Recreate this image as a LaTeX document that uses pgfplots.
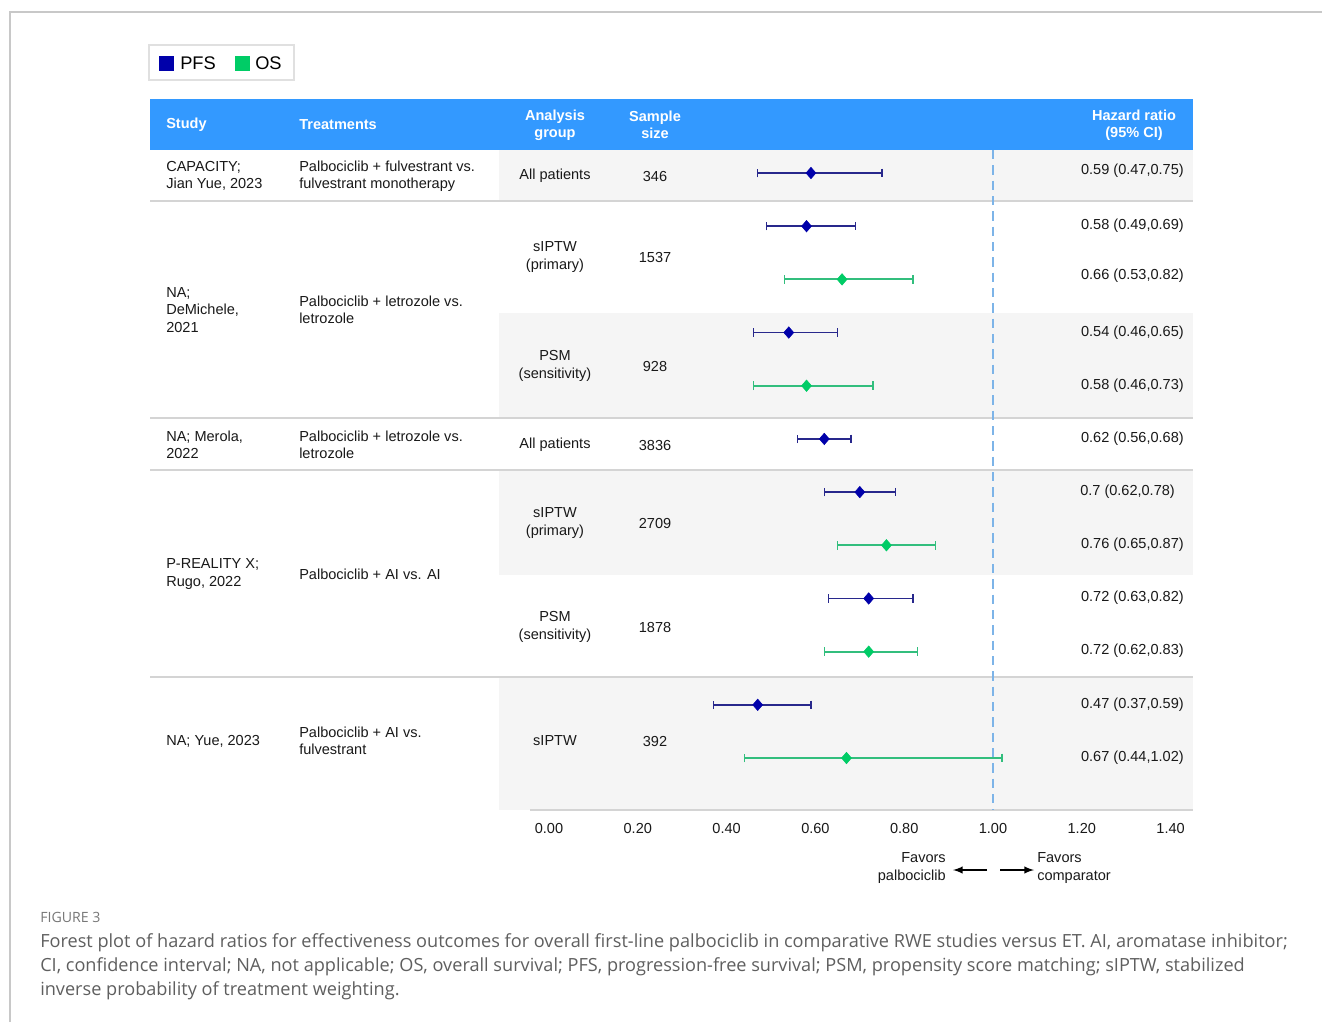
\documentclass[border=0pt]{standalone}
\usepackage{fontspec}
\setmainfont{Liberation Sans}
\newfontfamily\capfont{Open Sans}
\usepackage{pgfplots}
\pgfplotsset{compat=1.18}
\usepackage{pgfplotstable}

\definecolor{hdrblue}{RGB}{51,153,255}
\definecolor{rowgray}{RGB}{245,245,245}
\definecolor{rulegray}{RGB}{212,212,212}
\definecolor{pfsmark}{RGB}{0,0,170}
\definecolor{pfsbar}{RGB}{40,40,140}
\definecolor{osmark}{RGB}{0,204,102}
\definecolor{osbar}{RGB}{50,190,125}
\definecolor{refline}{RGB}{125,180,232}
\definecolor{framegray}{RGB}{200,200,200}
\definecolor{captext}{RGB}{95,95,95}
\definecolor{bodytext}{RGB}{25,25,25}

% hazard ratios with 95% CI, one row per plotted line (row = slot from the top)
\pgfplotstableread{
row hr lo hi
1 0.59 0.47 0.75
2 0.58 0.49 0.69
4 0.54 0.46 0.65
6 0.62 0.56 0.68
7 0.70 0.62 0.78
9 0.72 0.63 0.82
11 0.47 0.37 0.59
}\pfsdata
\pgfplotstableread{
row hr lo hi
3 0.66 0.53 0.82
5 0.58 0.46 0.73
8 0.76 0.65 0.87
10 0.72 0.62 0.83
12 0.67 0.44 1.02
}\osdata

\newcommand\tf{\fontsize{10.9}{13}\selectfont}
\tikzset{px/.style={x=0.75pt,y=-0.75pt}}

\begin{document}
\begin{tikzpicture}
\begin{scope}[px]
  \path[use as bounding box] (0,0) rectangle (1322,1022);
  \fill[white] (0,0) rectangle (1322,1022);
  \draw[framegray, line width=0.9pt] (10,1022) -- (10,12) -- (1322,12);

  % legend
  \draw[draw=black!12, fill=white, line width=0.8pt] (149,45) rectangle (294,80);
  \fill[pfsmark] (159,56) rectangle (174,71);
  \node[anchor=west, inner sep=0pt, font=\fontsize{13.7}{16}\selectfont] at (180,63.5) {PFS};
  \fill[osmark] (235,56) rectangle (250,71);
  \node[anchor=west, inner sep=0pt, font=\fontsize{13.7}{16}\selectfont] at (255,63.5) {OS};

  % header band and row shading
  \fill[hdrblue] (150,99) rectangle (1193,150);
  \fill[rowgray] (499,150) rectangle (1193,201);
  \fill[rowgray] (499,313) rectangle (1193,418);
  \fill[rowgray] (499,470) rectangle (1193,575);
  \fill[rowgray] (499,677) rectangle (1193,810);
  \foreach \yy in {201,418,470,677}
    \draw[rulegray, line width=1.2pt] (150,\yy) -- (1193,\yy);
  \draw[rulegray, line width=1.5pt] (530,810) -- (1193,810);

  \coordinate (axSW) at (549,810);
\end{scope}

\begin{axis}[
  at={(axSW)}, anchor=south west,
  scale only axis, width=466.2pt, height=495pt,
  xmin=0, xmax=1.4, ymin=0.5675, ymax=12.978, y dir=reverse,
  hide axis, clip=false]
  \addplot[refline, line width=1.4pt, dash pattern=on 7pt off 4.5pt]
    coordinates {(1,0.5675) (1,12.978)};
  \addplot[only marks, mark=diamond*, mark size=4.3pt, mark options={xscale=1.15}, color=pfsmark,
    error bars/.cd, x dir=both, x explicit,
    error bar style={draw=pfsbar, line width=1.35pt},
    error mark options={draw=pfsbar, mark size=3.2pt, line width=1.1pt, rotate=90}]
    table[x=hr, y=row,
      x error plus expr=\thisrow{hi}-\thisrow{hr},
      x error minus expr=\thisrow{hr}-\thisrow{lo}] {\pfsdata};
  \addplot[only marks, mark=diamond*, mark size=4.3pt, mark options={xscale=1.15}, color=osmark,
    error bars/.cd, x dir=both, x explicit,
    error bar style={draw=osbar, line width=1.35pt},
    error mark options={draw=osbar, mark size=3.2pt, line width=1.1pt, rotate=90}]
    table[x=hr, y=row,
      x error plus expr=\thisrow{hi}-\thisrow{hr},
      x error minus expr=\thisrow{hr}-\thisrow{lo}] {\osdata};
\end{axis}

\begin{scope}[px, every node/.style={inner sep=0pt, font=\tf, text=bodytext}]
  % header text
  \begin{scope}[every node/.append style={text=white, font=\tf\bfseries}]
    \node[anchor=west] at (166,125) {Study};
    \node[anchor=west] at (299,125) {Treatments};
    \node[align=center] at (555,125) {Analysis\\group};
    \node[align=center] at (655,125) {Sample\\size};
    \node[align=center] at (1134,125) {Hazard ratio\\(95\% CI)};
  \end{scope}

  % study and treatment columns
  \node[anchor=west, align=left] at (166,176) {CAPACITY;\\Jian Yue, 2023};
  \node[anchor=west, align=left] at (299,176) {Palbociclib + fulvestrant vs.\\fulvestrant monotherapy};
  \node[anchor=west, align=left] at (166,310) {NA;\\DeMichele,\\2021};
  \node[anchor=west, align=left] at (299,310) {Palbociclib + letrozole vs.\\letrozole};
  \node[anchor=west, align=left] at (166,445) {NA; Merola,\\2022};
  \node[anchor=west, align=left] at (299,445) {Palbociclib + letrozole vs.\\letrozole};
  \node[anchor=west, align=left] at (166,574) {P-REALITY X;\\Rugo, 2022};
  \node[anchor=west, align=left] at (299,574) {Palbociclib + AI vs. AI};
  \node[anchor=west, align=left] at (166,741) {NA; Yue, 2023};
  \node[anchor=west, align=left] at (299,741) {Palbociclib + AI vs.\\fulvestrant};

  % analysis group and sample size
  \node[align=center] at (555,176) {All patients};
  \node at (655,176) {346};
  \node[align=center] at (555,257) {sIPTW\\(primary)};
  \node at (655,257) {1537};
  \node[align=center] at (555,366) {PSM\\(sensitivity)};
  \node at (655,366) {928};
  \node[align=center] at (555,445) {All patients};
  \node at (655,445) {3836};
  \node[align=center] at (555,523) {sIPTW\\(primary)};
  \node at (655,523) {2709};
  \node[align=center] at (555,627) {PSM\\(sensitivity)};
  \node at (655,627) {1878};
  \node[align=center] at (555,741) {sIPTW};
  \node at (655,741) {392};

  % hazard ratio labels
  \node[anchor=east] at (1184,171) {0.59 (0.47,0.75)};
  \node[anchor=east] at (1184,226) {0.58 (0.49,0.69)};
  \node[anchor=east] at (1184,276) {0.66 (0.53,0.82)};
  \node[anchor=east] at (1184,333) {0.54 (0.46,0.65)};
  \node[anchor=east] at (1184,386) {0.58 (0.46,0.73)};
  \node[anchor=east] at (1184,439) {0.62 (0.56,0.68)};
  \node[anchor=west] at (1080,492) {0.7 (0.62,0.78)};
  \node[anchor=east] at (1184,545) {0.76 (0.65,0.87)};
  \node[anchor=east] at (1184,598) {0.72 (0.63,0.82)};
  \node[anchor=east] at (1184,651) {0.72 (0.62,0.83)};
  \node[anchor=east] at (1184,705) {0.47 (0.37,0.59)};
  \node[anchor=east] at (1184,758) {0.67 (0.44,1.02)};

  % tick labels of the hazard ratio scale
  \foreach \v/\lab in {0/0.00,0.2/0.20,0.4/0.40,0.6/0.60,0.8/0.80,1/1.00,1.2/1.20,1.4/1.40}
    \node at ({549+444*\v},828) {\lab};

  % direction annotation
  \node[anchor=east, align=right] at (946,868) {Favors\\palbociclib};
  \node[anchor=west, align=left] at (1037,868) {Favors\\comparator};
  \draw[-latex, line width=1.5pt, black] (987,870) -- (953,870);
  \draw[-latex, line width=1.5pt, black] (1000,870) -- (1034,870);

  % caption
  \node[anchor=west, font=\capfont\fontsize{10.6}{12}\selectfont, text=captext!85] at (40,917.5) {FIGURE 3};
  \node[anchor=north west, align=left, font=\capfont\fontsize{13.6}{18}\selectfont, text=captext] at (40,933)
    {Forest plot of hazard ratios for effectiveness outcomes for overall first-line palbociclib in comparative RWE studies versus ET. AI, aromatase inhibitor;\\
     CI, confidence interval; NA, not applicable; OS, overall survival; PFS, progression-free survival; PSM, propensity score matching; sIPTW, stabilized\\
     inverse probability of treatment weighting.};
\end{scope}
\end{tikzpicture}
\end{document}
